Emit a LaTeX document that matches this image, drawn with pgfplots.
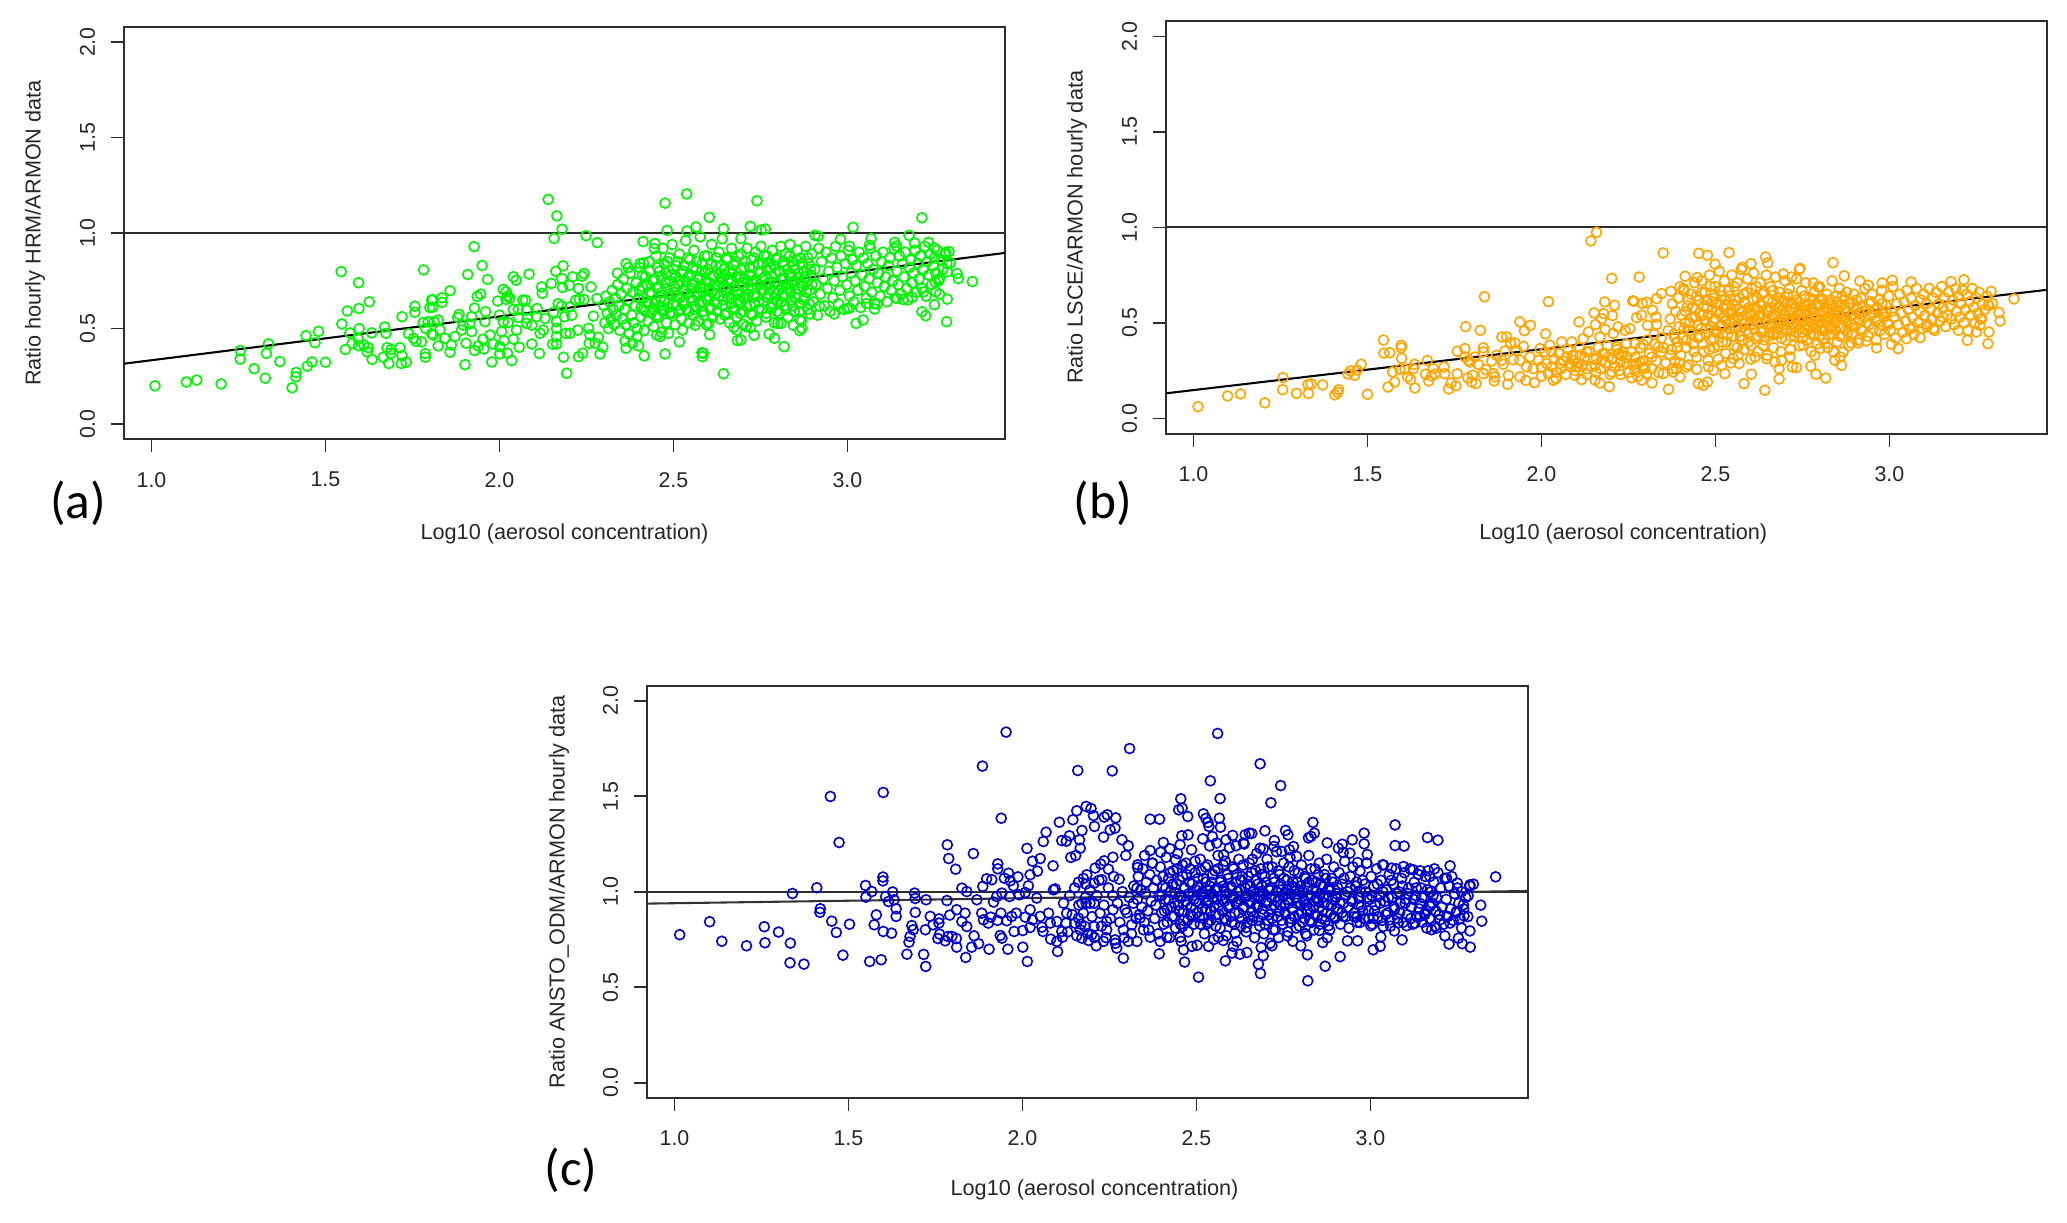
\documentclass[border=0pt]{standalone}
\usepackage{pgfplots}
\usepackage{fontspec}
\setmainfont{Liberation Sans}
\newfontfamily\calib{Carlito}
\pgfplotsset{compat=1.18}
\definecolor{pg}{RGB}{0,245,0}
\definecolor{po}{RGB}{255,165,0}
\definecolor{pb}{RGB}{0,0,205}
\definecolor{edge}{RGB}{45,45,45}
\pgfplotsset{rplot/.style={
  scale only axis, width=317.16pt, height=148.5pt,
  anchor=south west,
  xmin=0.921, xmax=3.453, ymin=-0.08, ymax=2.08,
  xtick={1,1.5,2,2.5,3}, ytick={0,0.5,1,1.5,2},
  xticklabels={1.0,1.5,2.0,2.5,3.0}, yticklabels={0.0,0.5,1.0,1.5,2.0},
  xtick pos=bottom, ytick pos=left, tick align=outside, major tick length=4.7pt,
  axis line style={edge,line width=0.72pt}, tick style={edge,line width=0.6pt},
  /pgf/number format/assume math mode=true,
  tick label style={font=\fontsize{7.7}{9}\selectfont,text=black!85},
  xticklabel style={yshift=-3.6pt},
  yticklabel style={xshift=-5.5pt,rotate=90,anchor=south,inner sep=0pt},
  label style={font=\fontsize{7.8}{9}\selectfont,text=black!85},
  clip=true
}}
\newcommand{\pts}[1]{\addplot[only marks,mark=o,mark size=1.8pt,color=#1,mark options={line width=0.58pt}] coordinates}
\begin{document}
\begin{tikzpicture}
\useasboundingbox (0,0) rectangle (744.12pt,439.92pt);
% ---------------- panel a
\begin{axis}[rplot,at={(44.64pt,281.77pt)},
 xlabel={Log10 (aerosol concentration)},
 xlabel style={at={(axis description cs:0.5,-0.229)},anchor=center},
 ylabel={Ratio hourly HRM/ARMON data},
 ylabel style={at={(axis description cs:-0.101,0.5)},anchor=center}]
\pts{pg}{
(1.01,.20)(1.10,.22)(1.13,.23)(1.20,.21)(1.255,.385)(1.255,.34)(1.295,.29)(1.33,.37)(1.336,.42)(1.327,.24)(1.369,.327)(1.404,.19)(1.415,.247)(1.416,.27)(1.448,.303)(1.461,.325)(1.444,.463)(1.47,.426)(1.48,.485)(1.50,.324)(1.545,.798)(1.547,.524)(1.557,.39)(1.563,.592)(1.596,.605)(1.595,.74)(1.626,.64)(1.57,.477)(1.597,.50)(1.577,.423)(1.594,.445)(1.595,.41)(1.61,.414)(1.623,.40)(1.62,.378)(1.634,.338)(1.633,.477)(1.67,.508)(1.674,.475)(1.677,.40)(1.689,.39)(1.687,.37)(1.666,.35)(1.682,.317)(1.72,.358)(1.714,.40)(1.718,.317)(1.732,.324)(1.72,.562)(1.757,.617)(1.757,.585)(1.739,.473)(1.753,.449)(1.76,.433)(1.776,.43)(1.787,.369)(1.787,.35)(1.782,.807)(1.781,.531)(1.795,.536)(1.788,.50)(1.805,.649)(1.80,.61)(1.805,.472)
(2.14,1.176)(2.165,1.09)(2.18,1.02)(2.157,.972)(2.249,.986)(2.281,.95)(1.927,.929)(1.95,.83)(1.909,.783)(1.966,.757)(1.858,.698)(1.835,.661)(1.808,.652)(1.835,.637)(1.808,.612)(1.936,.668)(1.946,.68)(1.928,.607)(1.884,.574)(1.96,.588)(1.88,.558)(1.92,.562)(2.0,.57)(1.995,.644)(2.011,.705)(2.019,.692)(2.024,.67)(2.019,.652)(2.03,.658)(2.04,.771)(2.048,.753)(2.085,.785)(2.067,.649)(2.075,.649)(2.04,.6)(2.054,.6)(2.078,.597)(2.108,.605)(2.121,.718)(2.123,.684)(2.149,.736)(2.162,.8)(2.183,.828)(2.179,.762)(2.181,.715)(2.201,.727)(2.21,.771)(2.227,.71)(2.237,.774)(2.243,.788)(2.263,.718)(2.23,.654)(2.243,.652)(2.219,.649)(2.169,.631)(2.179,.618)(2.203,.614)(2.155,.585)(2.187,.562)(2.208,.57)(2.131,.553)(2.107,.562)(2.08,.553)(2.054,.558)(2.025,.531)(1.812,.536)(1.824,.545)(1.915,.524)(1.896,.518)(1.958,.536)(2.049,.492)(2.078,.527)(2.093,.518)(2.126,.492)(2.117,.475)(2.164,.536)(2.164,.501)(2.164,.458)(2.191,.475)(2.203,.475)(2.225,.492)(2.256,.501)(2.27,.565)(2.28,.657)(2.26,.466)(2.284,.454)(2.275,.423)(2.297,.402)(2.258,.423)(2.289,.367)(2.239,.371)(2.227,.353)(2.184,.35)(2.193,.266)(2.164,.419)(2.153,.418)(2.115,.369)(2.093,.419)(2.057,.402)(2.035,.332)(2.023,.371)(2.001,.367)(1.978,.325)(1.901,.311)(1.928,.385)(1.939,.409)(1.955,.393)(1.982,.419)(2.001,.405)(2.013,.437)(2.04,.444)(2.006,.484)(1.973,.466)(1.953,.444)(1.904,.423)(1.862,.414)(1.858,.376)(1.824,.409)(1.843,.449)(1.872,.458)(1.891,.492)(1.92,.484)(1.829,.492)(1.81,.466)(2.011,.536)
(2.476,1.157)(2.538,1.205)(2.603,1.082)(2.482,1.014)(2.539,1.011)(2.565,1.032)(2.644,1.023)(2.413,.955)(2.447,.945)(2.445,.918)(2.339,.79)(2.364,.84)(2.37,.819)(2.404,.84)(2.414,.844)(2.582,.374)(2.583,.353)(2.586,.37)(2.476,.367)(2.416,.357)(2.644,.263)(2.604,.468)(2.517,.43)(2.462,.458)(2.452,.466)(2.395,.458)(2.361,.435)(2.364,.397)(2.382,.423)(2.4,.409)(2.486,.475)(2.526,.492)(2.563,.518)(2.601,.527)
(2.74,1.169)(2.721,1.035)(2.752,1.016)(2.764,1.021)(2.694,.971)(2.907,.988)(2.916,.983)(2.98,.967)(3.016,1.03)(3.068,.971)(3.063,.936)(3.006,.931)(3.177,.988)(3.214,1.08)(3.193,.948)(3.233,.951)(3.136,.951)(3.141,.932)(3.25,.922)(3.292,.903)(3.282,.899)(3.296,.844)(3.287,.797)(3.315,.788)(3.319,.762)(3.359,.746)(3.265,.762)(3.252,.745)(3.254,.692)(3.265,.68)(3.287,.654)(3.25,.625)(3.214,.588)(3.225,.567)(3.285,.536)(3.085,.628)(3.078,.602)(3.045,.545)(3.025,.527)(2.999,.605)(3.006,.607)(2.962,.576)(3.054,.631)(2.818,.405)(2.79,.449)(2.775,.471)(2.732,.465)(2.721,.505)(2.701,.522)(2.673,.506)(2.682,.492)(2.684,.437)(2.694,.44)(2.869,.501)(2.863,.489)(2.845,.517)(2.863,.548)(2.809,.527)(2.8,.527)(2.893,.576)(2.92,.618)(3.143,.658)(3.16,.652)(3.186,.663)(3.219,.692)
(2.30,.62)(2.303,.53)(2.306,.67)(2.31,.58)(2.313,.50)(2.316,.64)(2.32,.55)(2.324,.70)(2.327,.60)(2.33,.52)(2.333,.66)(2.336,.57)(2.34,.73)(2.343,.62)(2.346,.49)(2.35,.68)(2.353,.55)(2.356,.76)(2.36,.60)(2.363,.52)(2.366,.71)(2.37,.65)(2.373,.47)(2.376,.79)(2.38,.57)(2.383,.69)(2.386,.53)(2.39,.62)(2.393,.74)(2.396,.50)(2.40,.66)(2.403,.82)(2.406,.56)(2.41,.72)(2.413,.60)(2.416,.49)(2.42,.77)(2.423,.64)(2.426,.54)(2.43,.85)(2.433,.69)(2.436,.58)(2.44,.75)(2.443,.51)(2.446,.63)(2.45,.88)(2.453,.71)(2.456,.56)(2.46,.80)(2.463,.66)(2.466,.48)(2.47,.92)(2.473,.60)(2.476,.74)(2.48,.53)(2.483,.85)(2.486,.68)(2.49,.58)(2.493,.78)(2.496,.94)
(2.499,.63)(2.502,.72)(2.505,.52)(2.508,.83)(2.511,.67)(2.514,.59)(2.517,.89)(2.52,.75)(2.523,.55)(2.526,.64)(2.529,.80)(2.532,.70)(2.535,.96)(2.538,.60)(2.541,.77)(2.544,.53)(2.547,.86)(2.55,.66)(2.553,.73)(2.556,.57)(2.559,.91)(2.562,.62)(2.565,.81)(2.568,.69)(2.571,.54)(2.574,.76)(2.577,.98)(2.58,.64)(2.583,.84)(2.586,.59)(2.589,.71)(2.592,.79)(2.595,.52)(2.598,.88)(2.601,.67)(2.604,.74)(2.607,.61)(2.61,.94)(2.613,.56)(2.616,.78)(2.619,.68)(2.622,.83)(2.625,.63)(2.628,.73)(2.631,.90)(2.634,.55)(2.637,.76)(2.64,.97)(2.643,.65)(2.646,.81)(2.649,.70)(2.652,.58)(2.655,.87)(2.658,.75)(2.661,.53)(2.664,.66)(2.667,.92)(2.67,.79)(2.673,.61)(2.676,.72)(2.679,.85)(2.682,.56)(2.685,.68)(2.688,.77)(2.691,.63)(2.694,.89)(2.697,.74)(2.7,.59)(2.703,.82)(2.706,.66)(2.709,.51)(2.712,.92)(2.715,.71)(2.718,.78)(2.721,.62)(2.724,.86)(2.727,.57)(2.73,.75)(2.733,.68)(2.736,.90)(2.739,.54)(2.742,.80)(2.745,.64)(2.748,.73)(2.751,.93)(2.754,.60)(2.757,.84)(2.76,.70)(2.763,.77)(2.766,.56)(2.769,.88)(2.772,.66)(2.775,.74)(2.778,.82)(2.781,.61)(2.784,.91)(2.787,.69)(2.79,.53)(2.793,.79)(2.796,.86)(2.799,.64)(2.802,.73)(2.805,.58)(2.808,.93)(2.811,.76)(2.814,.67)(2.817,.83)(2.82,.62)(2.823,.89)(2.826,.71)(2.829,.56)(2.832,.78)(2.835,.94)(2.838,.65)(2.841,.85)(2.844,.74)(2.847,.59)(2.85,.81)(2.853,.68)(2.856,.91)(2.859,.77)(2.862,.63)(2.865,.87)(2.868,.54)(2.871,.72)(2.874,.80)(2.877,.66)(2.88,.93)(2.883,.75)(2.886,.60)(2.889,.84)(2.892,.70)(2.895,.78)(2.898,.89)
(2.902,.64)(2.906,.81)(2.91,.73)(2.914,.57)(2.918,.92)(2.922,.68)(2.926,.85)(2.93,.76)(2.934,.62)(2.938,.90)(2.942,.71)(2.946,.80)(2.95,.59)(2.954,.87)(2.958,.66)(2.962,.75)(2.966,.93)(2.97,.82)(2.974,.63)(2.978,.70)(2.982,.88)(2.986,.77)(2.99,.60)(2.994,.84)(2.998,.73)(3.002,.91)(3.006,.67)(3.01,.79)(3.014,.86)(3.018,.64)(3.022,.75)(3.026,.83)(3.03,.70)(3.034,.90)(3.038,.61)(3.042,.78)(3.046,.87)(3.05,.72)(3.054,.66)(3.058,.84)(3.062,.76)(3.066,.92)(3.07,.69)(3.074,.81)(3.078,.63)(3.082,.88)(3.086,.74)(3.09,.79)(3.094,.67)(3.098,.85)(3.102,.90)(3.106,.72)(3.11,.77)(3.114,.64)(3.118,.83)(3.122,.87)(3.126,.70)(3.13,.75)(3.134,.92)(3.138,.66)(3.142,.80)(3.146,.73)(3.15,.88)(3.154,.68)(3.158,.84)(3.162,.77)(3.166,.90)(3.17,.71)(3.174,.65)(3.178,.82)(3.182,.86)(3.186,.74)(3.19,.79)(3.194,.91)(3.198,.69)(3.202,.84)(3.206,.76)(3.21,.88)(3.214,.71)(3.218,.81)(3.222,.93)(3.226,.67)(3.23,.85)(3.234,.78)(3.238,.89)(3.242,.73)(3.246,.83)(3.25,.87)(3.254,.79)(3.258,.91)(3.262,.75)(3.268,.86)(3.274,.81)(3.28,.89)(3.286,.84)
(2.402,.70)(2.407,.61)(2.411,.78)(2.415,.66)(2.419,.59)(2.424,.73)(2.428,.63)(2.432,.80)(2.437,.68)(2.441,.60)(2.445,.76)(2.449,.65)(2.452,.57)(2.455,.82)(2.458,.72)(2.461,.62)(2.464,.77)(2.467,.69)(2.47,.59)(2.473,.84)(2.476,.65)(2.479,.79)(2.482,.71)(2.485,.61)(2.488,.87)(2.491,.75)(2.494,.67)(2.497,.58)(2.5,.81)(2.503,.69)(2.506,.77)(2.509,.62)(2.512,.85)(2.515,.73)(2.518,.66)(2.521,.60)(2.524,.79)(2.527,.70)(2.53,.83)(2.533,.63)(2.536,.75)(2.539,.68)(2.542,.87)(2.545,.59)(2.548,.78)(2.551,.71)(2.554,.65)(2.557,.82)(2.56,.74)(2.563,.60)(2.566,.85)(2.569,.67)(2.572,.77)(2.575,.63)(2.578,.72)(2.581,.80)(2.584,.69)(2.587,.57)(2.59,.88)(2.593,.75)(2.596,.65)(2.599,.81)(2.602,.71)(2.605,.60)(2.608,.84)(2.611,.69)(2.614,.77)(2.617,.64)(2.62,.73)(2.623,.87)(2.626,.59)(2.629,.79)(2.632,.67)(2.635,.74)(2.638,.83)(2.641,.62)(2.644,.72)(2.647,.57)(2.65,.78)(2.653,.86)(2.656,.66)(2.659,.71)(2.662,.80)(2.665,.63)(2.668,.75)(2.671,.68)(2.674,.83)(2.677,.60)(2.68,.77)(2.683,.70)(2.686,.88)(2.689,.65)(2.692,.58)(2.695,.81)(2.698,.72)(2.701,.66)(2.704,.76)(2.707,.85)(2.71,.62)(2.713,.74)(2.716,.68)(2.719,.82)(2.722,.58)(2.725,.78)(2.728,.71)(2.731,.87)(2.734,.63)(2.737,.75)(2.74,.67)(2.743,.84)(2.746,.60)(2.749,.79)(2.752,.70)(2.755,.76)(2.758,.64)(2.761,.88)(2.764,.73)(2.767,.58)(2.77,.81)(2.773,.68)(2.776,.85)(2.779,.71)(2.782,.77)(2.785,.63)(2.788,.83)(2.791,.66)(2.794,.74)(2.797,.59)(2.8,.87)(2.803,.70)(2.806,.80)(2.809,.64)(2.812,.72)(2.815,.85)(2.818,.76)(2.821,.67)(2.824,.60)(2.827,.81)(2.83,.73)(2.833,.88)(2.836,.69)(2.839,.78)(2.842,.62)(2.845,.83)(2.848,.75)(2.851,.66)(2.854,.86)(2.857,.71)(2.86,.79)(2.863,.59)(2.866,.74)(2.87,.84)(2.874,.65)(2.878,.77)(2.882,.69)(2.886,.87)(2.89,.63)(2.894,.81)(2.898,.73)
};
\addplot[edge,line width=0.72pt] coordinates {(0.921,1)(3.453,1)};
\addplot[black,line width=0.75pt] coordinates {(0.921,.316)(3.453,.896)};
\end{axis}
% ---------------- panel b
\begin{axis}[rplot,at={(419.76pt,283.82pt)},
 xlabel={Log10 (aerosol concentration)},
 xlabel style={at={(axis description cs:0.519,-0.242)},anchor=center},
 ylabel={Ratio LSCE/ARMON hourly data},
 ylabel style={at={(axis description cs:-0.101,0.5)},anchor=center}]
\pts{po}{
(1.013,.061)(1.098,.117)(1.135,.128)(1.205,.081)(1.257,.213)(1.256,.15)(1.296,.131)(1.33,.13)(1.329,.177)(1.338,.18)(1.371,.175)(1.406,.123)(1.414,.136)(1.417,.15)(1.444,.232)(1.451,.248)(1.463,.225)(1.47,.253)(1.482,.283)(1.5,.126)(1.546,.41)(1.547,.341)(1.564,.344)(1.559,.164)(1.578,.19)(1.572,.243)(1.597,.383)(1.597,.369)(1.598,.314)(1.593,.257)(1.608,.257)(1.635,.283)(1.632,.26)(1.615,.217)(1.624,.203)(1.636,.159)(1.672,.302)(1.667,.231)(1.676,.196)(1.684,.222)(1.694,.232)(1.689,.26)(1.72,.269)(1.722,.234)(1.733,.154)(1.74,.185)(1.754,.17)(1.758,.234)(1.758,.351)(1.78,.365)(1.782,.48)(1.78,.321)(1.788,.212)(1.79,.304)
(1.836,.637)(2.02,.611)(1.824,.461)(1.938,.505)(1.968,.487)(1.951,.459)(2.012,.442)(2.108,.505)(2.151,.552)(2.179,.548)(2.173,.522)(2.155,.491)(2.182,.61)(2.21,.592)(2.204,.538)(2.202,.733)(2.281,.74)(2.142,.929)(2.158,.974)(2.35,.866)(2.452,.864)(2.477,.854)(2.539,.868)(2.499,.807)(2.602,.81)(2.578,.791)(2.644,.845)(2.65,.814)(2.413,.744)(2.447,.737)(2.262,.615)(2.266,.613)(2.29,.601)(2.302,.608)(2.319,.566)(2.273,.527)(2.288,.54)(2.329,.531)(2.305,.487)(2.331,.492)(2.372,.665)(2.345,.653)(2.331,.627)(2.398,.688)(2.408,.679)(1.886,.426)(1.9,.426)(1.924,.395)(1.911,.395)(1.948,.377)(1.833,.369)(1.833,.348)(1.895,.353)(1.928,.356)(1.857,.3)(1.871,.33)(1.886,.304)(1.89,.283)(1.809,.321)(1.818,.283)(1.795,.295)(1.84,.255)(1.862,.234)(1.833,.234)(1.866,.217)(1.864,.196)(1.802,.226)(1.799,.19)(1.812,.182)(1.905,.225)(1.903,.178)(1.938,.217)(1.955,.199)(1.98,.187)(1.919,.307)(1.938,.304)(1.967,.321)(1.957,.269)(1.976,.26)(1.991,.304)(1.996,.365)(2.01,.348)(2.024,.383)(2.029,.348)(2.0,.269)(2.015,.287)(2.02,.234)(2.0,.22)(2.034,.2)(2.042,.208)(2.053,.287)(2.058,.4)(2.087,.4)(2.072,.321)(2.091,.304)(2.111,.33)(2.13,.348)(2.12,.417)(2.135,.452)(2.168,.426)(2.183,.465)(2.206,.444)(2.22,.479)(2.24,.461)(2.254,.47)(2.082,.287)(2.101,.269)(2.13,.26)(2.115,.203)(2.096,.225)(2.154,.2)(2.168,.185)(2.195,.166)(2.158,.313)(2.154,.278)(2.173,.304)(2.183,.339)(2.192,.321)(2.202,.243)(2.227,.229)(2.259,.212)(2.288,.2)(2.318,.185)(2.365,.152)(2.216,.374)(2.235,.348)(2.245,.321)(2.221,.339)(2.226,.295)(2.245,.287)(2.269,.391)(2.293,.386)(2.326,.391)(2.273,.287)(2.283,.295)(2.269,.252)(2.293,.26)(2.302,.234)(2.317,.321)(2.336,.374)(2.345,.348)(2.35,.234)(2.379,.243)(2.398,.217)(2.388,.26)(2.417,.269)(2.446,.257)(2.451,.182)(2.465,.173)(2.477,.19)(2.582,.182)(2.603,.231)(2.642,.147)(2.527,.234)(2.518,.278)(2.479,.304)(2.494,.252)(2.551,.313)(2.568,.287)(2.614,.321)(2.647,.313)
(2.838,.815)(2.741,.78)(2.743,.785)(2.695,.756)(2.719,.74)(2.87,.746)(2.781,.709)(2.795,.688)(2.915,.719)(2.939,.697)(2.979,.709)(3.008,.723)(3.062,.714)(3.177,.716)(3.214,.726)(3.292,.665)(3.358,.625)(3.296,.601)(3.284,.592)(3.315,.554)(3.318,.51)(3.265,.522)(3.26,.487)(3.286,.452)(3.283,.391)(3.224,.409)(3.25,.452)(3.198,.461)(3.153,.531)(3.126,.47)(3.107,.479)(3.088,.423)(3.049,.417)(3.025,.365)(3.006,.388)(2.963,.369)(3.068,.475)(2.934,.405)(2.91,.395)(2.891,.395)(2.867,.348)(2.839,.348)(2.843,.304)(2.858,.321)(2.862,.278)(2.817,.211)(2.789,.231)(2.774,.273)(2.785,.33)(2.733,.266)(2.721,.269)(2.714,.321)(2.683,.26)(2.683,.206)(2.69,.304)(2.671,.295)(2.815,.391)(2.752,.383)(2.8,.365)
(2.37,.52)(2.373,.36)(2.376,.60)(2.38,.44)(2.383,.30)(2.386,.56)(2.39,.40)(2.393,.63)(2.396,.48)(2.40,.33)(2.403,.54)(2.406,.42)(2.41,.67)(2.413,.50)(2.416,.37)(2.42,.59)(2.423,.28)(2.426,.46)(2.43,.65)(2.433,.53)(2.436,.39)(2.44,.71)(2.443,.57)(2.446,.32)(2.45,.49)(2.453,.62)(2.456,.43)(2.46,.72)(2.463,.54)(2.466,.35)(2.47,.66)(2.473,.47)(2.476,.58)(2.48,.27)(2.483,.75)(2.486,.41)(2.49,.61)(2.493,.51)(2.496,.37)(2.499,.69)(2.502,.45)(2.505,.56)(2.508,.31)(2.511,.77)(2.514,.48)(2.517,.64)(2.52,.40)(2.523,.53)(2.526,.72)(2.529,.34)(2.532,.59)(2.535,.44)(2.538,.67)(2.541,.50)(2.544,.29)(2.547,.75)(2.55,.55)(2.553,.38)(2.556,.62)(2.559,.47)(2.562,.71)(2.565,.33)(2.568,.57)(2.571,.43)(2.574,.78)(2.577,.52)(2.58,.65)(2.583,.36)(2.586,.60)(2.589,.46)(2.592,.73)(2.595,.40)(2.598,.55)(2.601,.31)(2.604,.68)(2.607,.49)(2.61,.76)(2.613,.58)(2.616,.42)(2.619,.63)(2.622,.35)(2.625,.53)(2.628,.71)(2.631,.45)(2.634,.59)(2.637,.38)(2.64,.66)(2.643,.51)(2.646,.75)(2.649,.33)(2.652,.56)(2.655,.43)(2.658,.69)(2.661,.48)(2.664,.61)(2.667,.37)(2.67,.54)(2.673,.74)(2.676,.44)(2.679,.58)(2.682,.50)(2.685,.66)(2.688,.35)(2.691,.62)(2.694,.47)(2.697,.55)(2.7,.72)(2.703,.41)(2.706,.60)(2.709,.52)(2.712,.68)(2.715,.36)(2.718,.46)(2.721,.57)(2.724,.64)(2.727,.43)(2.73,.53)(2.733,.73)(2.736,.49)(2.739,.61)(2.742,.38)(2.745,.56)(2.748,.67)(2.751,.45)(2.754,.51)(2.757,.59)(2.76,.71)(2.763,.41)(2.766,.54)(2.769,.48)(2.772,.63)(2.775,.35)(2.778,.57)(2.781,.44)(2.784,.66)(2.787,.52)(2.79,.60)(2.793,.39)(2.796,.49)(2.799,.69)(2.802,.55)(2.805,.46)(2.808,.62)(2.811,.42)(2.814,.58)(2.817,.51)(2.82,.65)(2.823,.37)(2.826,.53)(2.829,.47)(2.832,.60)(2.835,.72)(2.838,.44)(2.841,.56)(2.844,.50)(2.847,.64)(2.85,.40)(2.853,.54)(2.856,.68)(2.859,.48)(2.862,.59)(2.865,.43)(2.868,.52)(2.871,.62)(2.874,.46)(2.877,.66)(2.88,.56)(2.883,.38)(2.886,.50)(2.889,.60)(2.892,.44)(2.895,.54)(2.898,.65)
(2.902,.48)(2.906,.58)(2.91,.41)(2.914,.52)(2.918,.63)(2.922,.46)(2.926,.56)(2.93,.68)(2.934,.50)(2.938,.43)(2.942,.60)(2.946,.54)(2.95,.65)(2.954,.47)(2.958,.57)(2.962,.41)(2.966,.52)(2.97,.62)(2.974,.49)(2.978,.67)(2.982,.55)(2.986,.44)(2.99,.59)(2.994,.50)(2.998,.64)(3.002,.46)(3.006,.56)(3.01,.69)(3.014,.53)(3.018,.42)(3.022,.60)(3.026,.49)(3.03,.65)(3.034,.55)(3.038,.45)(3.042,.61)(3.046,.51)(3.05,.67)(3.054,.57)(3.058,.47)(3.062,.63)(3.066,.53)(3.07,.44)(3.074,.59)(3.078,.68)(3.082,.50)(3.086,.56)(3.09,.62)(3.094,.47)(3.098,.65)(3.102,.54)(3.106,.60)(3.11,.49)(3.114,.68)(3.118,.57)(3.122,.52)(3.126,.63)(3.13,.46)(3.134,.66)(3.138,.55)(3.142,.60)(3.146,.51)(3.15,.69)(3.154,.58)(3.158,.63)(3.162,.48)(3.166,.54)(3.17,.66)(3.174,.59)(3.178,.52)(3.182,.62)(3.186,.49)(3.19,.68)(3.194,.56)(3.198,.64)(3.202,.53)(3.206,.60)(3.21,.67)(3.214,.50)(3.218,.57)(3.222,.65)(3.226,.46)(3.23,.61)(3.234,.54)(3.238,.68)(3.242,.58)(3.246,.50)(3.25,.63)(3.254,.55)(3.258,.66)(3.262,.52)(3.268,.60)(3.274,.57)(3.28,.64)(3.286,.59)
(2.41,.47)(2.414,.56)(2.418,.41)(2.422,.62)(2.426,.50)(2.43,.44)(2.434,.58)(2.438,.35)(2.442,.53)(2.446,.64)(2.45,.42)(2.454,.55)(2.458,.47)(2.461,.66)(2.464,.39)(2.467,.59)(2.47,.51)(2.473,.44)(2.476,.62)(2.479,.54)(2.482,.36)(2.485,.69)(2.488,.48)(2.491,.57)(2.494,.42)(2.497,.63)(2.5,.52)(2.503,.46)(2.506,.60)(2.509,.38)(2.512,.55)(2.515,.67)(2.518,.49)(2.521,.44)(2.524,.58)(2.527,.62)(2.53,.51)(2.533,.40)(2.536,.55)(2.539,.47)(2.542,.64)(2.545,.57)(2.548,.43)(2.551,.52)(2.554,.69)(2.557,.48)(2.56,.59)(2.563,.37)(2.566,.53)(2.569,.63)(2.572,.46)(2.575,.56)(2.578,.41)(2.581,.50)(2.584,.61)(2.587,.54)(2.59,.66)(2.593,.44)(2.596,.58)(2.599,.49)(2.602,.38)(2.605,.55)(2.608,.62)(2.611,.47)(2.614,.52)(2.617,.69)(2.62,.57)(2.623,.43)(2.626,.50)(2.629,.60)(2.632,.54)(2.635,.65)(2.638,.46)(2.641,.41)(2.644,.57)(2.647,.52)(2.65,.62)(2.653,.49)(2.656,.45)(2.659,.58)(2.662,.53)(2.665,.67)(2.668,.44)(2.671,.50)(2.674,.60)(2.677,.55)(2.68,.47)(2.683,.63)(2.686,.52)(2.689,.42)(2.692,.57)(2.695,.49)(2.698,.61)(2.701,.54)(2.704,.46)(2.707,.65)(2.71,.50)(2.713,.56)(2.716,.43)(2.719,.60)(2.722,.52)(2.725,.48)(2.728,.58)(2.731,.45)(2.734,.62)(2.737,.55)(2.74,.51)(2.743,.47)(2.746,.59)(2.749,.42)(2.752,.53)(2.755,.64)(2.758,.49)(2.761,.56)(2.764,.46)(2.767,.60)(2.77,.52)(2.773,.44)(2.776,.58)(2.779,.50)(2.782,.62)(2.785,.55)(2.788,.47)(2.791,.53)(2.794,.59)(2.797,.43)(2.8,.51)(2.803,.63)(2.806,.48)(2.809,.56)(2.812,.46)(2.815,.60)(2.818,.53)(2.821,.50)(2.824,.57)(2.827,.44)(2.83,.62)(2.833,.52)(2.836,.48)(2.839,.59)(2.842,.54)(2.845,.46)(2.848,.51)(2.851,.61)(2.854,.56)(2.857,.43)(2.86,.53)(2.864,.64)(2.868,.48)(2.872,.57)(2.876,.51)(2.88,.45)(2.884,.60)(2.888,.54)(2.892,.49)(2.896,.58)(2.9,.52)(2.906,.62)(2.912,.55)(2.918,.47)(2.924,.59)(2.93,.53)(2.936,.57)(2.942,.49)(2.948,.61)(2.954,.55)(2.96,.51)(2.966,.58)(2.972,.46)(2.978,.60)(2.984,.53)(2.99,.56)(2.996,.49)
(2.03,.27)(2.036,.31)(2.043,.24)(2.05,.34)(2.056,.26)(2.063,.30)(2.07,.23)(2.077,.36)(2.084,.27)(2.09,.33)(2.097,.25)(2.104,.29)(2.11,.37)(2.117,.28)(2.124,.32)(2.13,.23)(2.137,.35)(2.144,.27)(2.15,.31)(2.157,.24)(2.163,.37)(2.17,.26)(2.177,.34)(2.184,.29)(2.19,.38)(2.197,.23)(2.204,.31)(2.21,.27)(2.217,.36)(2.224,.25)(2.23,.33)(2.237,.29)(2.244,.39)(2.25,.24)(2.257,.35)(2.264,.28)(2.27,.32)(2.277,.22)(2.284,.37)(2.29,.30)(2.297,.27)(2.304,.41)(2.31,.34)(2.317,.26)(2.324,.44)(2.33,.30)(2.337,.24)(2.344,.42)(2.35,.37)(2.357,.29)(2.364,.46)(2.37,.33)(2.377,.26)(2.384,.42)(2.39,.37)(2.397,.29)
};
\addplot[edge,line width=0.72pt] coordinates {(0.921,1)(3.453,1)};
\addplot[black,line width=0.75pt] coordinates {(0.921,.131)(3.453,.673)};
\end{axis}
% ---------------- panel c
\begin{axis}[rplot,at={(232.92pt,44.64pt)},
 xlabel={Log10 (aerosol concentration)},
 xlabel style={at={(axis description cs:0.508,-0.223)},anchor=center},
 ylabel={Ratio ANSTO\_ODM/ARMON hourly data},
 ylabel style={at={(axis description cs:-0.1,0.5)},anchor=center}]
\pts{pb}{
(1.015,.775)(1.101,.843)(1.136,.741)(1.207,.717)(1.258,.817)(1.26,.733)(1.299,.789)(1.333,.731)(1.332,.628)(1.339,.991)(1.372,.621)(1.409,1.021)(1.419,.911)(1.418,.892)(1.448,1.499)(1.452,.846)(1.465,.787)(1.473,1.258)(1.484,.668)(1.503,.83)(1.549,1.033)(1.55,.972)(1.567,1.001)(1.561,.635)(1.574,.827)(1.58,.879)(1.594,.644)(1.6,1.52)(1.599,1.077)(1.599,1.057)(1.6,.792)(1.607,.975)(1.615,.949)(1.624,.783)(1.627,.999)(1.631,.958)(1.637,.911)(1.637,.871)(1.668,.673)(1.677,.766)(1.674,.736)(1.682,.823)(1.686,.801)(1.69,.993)(1.692,.965)(1.692,.892)(1.716,.672)(1.722,.609)(1.721,.801)(1.723,.958)(1.735,.871)(1.743,.827)(1.76,.858)(1.76,.836)(1.762,.778)(1.757,.755)(1.778,.743)(1.786,.766)(1.783,.954)(1.784,1.246)(1.788,1.174)(1.791,.878)
(1.953,1.836)(1.885,1.658)(2.159,1.635)(2.258,1.633)(2.308,1.75)(1.939,1.385)(1.808,1.118)(1.859,1.2)(1.897,1.068)(1.912,1.063)(1.929,1.146)(1.929,1.12)(1.96,1.097)(1.948,1.071)(1.987,1.078)(1.965,1.057)(1.974,1.031)(1.826,1.019)(1.84,1.001)(1.886,1.028)(1.869,.958)(1.917,.946)(1.926,.975)(1.941,.993)(1.963,.975)(1.991,.984)(2.008,.996)(2.017,1.031)(2.022,1.089)(2.043,1.108)(2.029,1.16)(2.051,1.174)(2.013,1.227)(2.06,1.263)(2.068,1.312)(2.106,1.364)(2.088,1.136)(2.113,1.268)(2.126,1.265)(2.135,1.293)(2.145,1.377)(2.156,1.424)(2.183,1.447)(2.197,1.436)(2.204,1.399)(2.207,1.342)(2.171,1.321)(2.164,1.272)(2.166,1.228)(2.153,1.19)(2.139,1.18)(2.233,1.286)(2.235,1.391)(2.244,1.403)(2.268,1.387)(2.252,1.324)(2.266,1.333)(2.286,1.272)(2.304,1.241)(2.297,1.19)(2.26,1.181)(2.235,1.162)(2.225,1.145)(2.209,1.124)(2.185,1.089)(2.161,1.05)(2.182,1.04)(2.206,1.045)(2.228,1.063)(2.247,1.118)(2.262,1.08)(2.278,1.066)(2.331,1.141)(2.331,1.127)(2.329,1.019)(2.367,1.38)(2.394,1.38)(2.405,1.258)(2.367,1.216)(2.351,1.19)(2.374,1.15)(2.397,1.207)(2.424,1.225)(2.44,1.167)(2.455,1.487)(2.449,1.429)(2.459,1.438)(2.475,1.394)(2.453,1.246)(2.458,1.293)(2.476,1.298)(2.52,1.408)(2.527,1.384)(2.533,1.363)(2.536,1.342)(2.566,1.385)(2.569,1.338)(2.561,1.829)(2.54,1.581)(2.568,1.488)(2.518,1.277)(2.546,1.289)(2.558,1.255)(2.578,1.193)(2.604,1.295)(2.585,1.272)(2.614,1.241)(2.64,1.298)(2.652,1.307)(2.635,1.255)
(1.811,.906)(1.835,.888)(1.826,.844)(1.84,.818)(1.797,.766)(1.81,.755)(1.811,.71)(1.854,.71)(1.874,.728)(1.861,.769)(1.837,.656)(1.904,.699)(1.936,.771)(1.941,.757)(1.958,.699)(2.001,.71)(2.014,.635)(1.976,.792)(2.001,.797)(2.022,.813)(2.056,.815)(2.059,.792)(2.081,.752)(2.113,.792)(2.115,.762)(2.099,.74)(2.101,.687)(1.883,.888)(1.888,.853)(1.902,.836)(1.909,.867)(1.928,.85)(1.938,.888)(1.955,.848)(1.969,.871)(1.982,.888)(2.008,.867)(2.022,.906)(2.029,.853)(2.041,.967)(2.051,.871)(2.075,.888)(2.08,.836)(2.099,.844)(2.118,.94)(2.125,.836)(2.127,.888)(2.089,1.01)(2.094,1.015)(2.171,.94)(2.183,.94)(2.194,.94)(2.206,.94)(2.175,.888)(2.161,.862)(2.151,.836)(2.166,.801)(2.171,.757)(2.18,.818)(2.206,.818)(2.199,.775)(2.19,.745)(2.212,.717)(2.233,.74)(2.223,.888)(2.242,.844)(2.242,.801)(2.26,.906)(2.271,.705)(2.29,.652)(2.266,.748)(2.29,.801)(2.314,.827)(2.304,.74)(2.329,.74)(2.295,.906)(2.319,.94)(2.338,.862)(2.348,.801)(2.367,.762)(2.396,.74)(2.393,.675)(2.415,.762)(2.453,.762)(2.46,.818)(2.463,.696)(2.466,.632)(2.487,.714)(2.506,.553)(2.535,.714)(2.532,.832)(2.563,.762)(2.577,.745)(2.611,.783)(2.606,.714)(2.602,.679)(2.583,.638)(2.625,.673)(2.645,.682)(2.643,.813)
(2.683,1.67)(2.742,1.556)(2.714,1.466)(2.835,1.363)(2.839,1.307)(2.822,1.282)(2.829,1.29)(2.697,1.319)(2.659,1.305)(2.756,1.321)(2.763,1.298)(2.724,1.268)(2.723,1.237)(2.683,1.228)(2.692,1.225)(2.767,1.22)(2.779,1.237)(2.745,1.211)(2.788,1.185)(2.876,1.256)(2.908,1.228)(2.919,1.249)(2.948,1.272)(2.982,1.307)(2.982,1.251)(2.991,1.195)(2.941,1.202)(2.922,1.206)(2.989,1.15)(2.963,1.153)(3.071,1.35)(3.071,1.242)(3.097,1.239)(3.164,1.284)(3.194,1.27)(3.229,1.136)(3.035,1.141)(3.061,1.124)(3.095,1.132)(3.123,1.115)(3.143,1.11)(3.184,1.12)(3.171,1.08)(3.219,1.071)(3.25,1.045)(3.286,1.036)(3.296,1.04)(3.36,1.078)(3.281,.979)(3.317,.93)(3.32,.846)(3.267,.932)(3.248,.897)(3.269,.874)(3.286,.795)(3.262,.81)(3.253,.757)(3.264,.728)(3.287,.71)(3.226,.726)(3.214,.769)(3.229,.836)(3.176,.801)(3.162,.81)(3.19,.81)(3.171,.923)(3.128,.836)(3.104,.822)(3.091,.748)(3.069,.795)(3.03,.764)(3.028,.714)(3.008,.696)(2.963,.743)(2.934,.743)(2.913,.66)(2.87,.61)(2.82,.534)(2.876,.759)(2.863,.734)(2.853,.797)(2.817,.769)(2.819,.67)(2.8,.717)(2.777,.741)(2.761,.769)(2.717,.717)(2.692,.665)(2.686,.708)(2.678,.621)(2.684,.572)(3.001,.822)(3.037,.818)(2.97,.839)(2.961,.867)(2.922,.871)(2.893,.862)(2.879,.822)(3.008,.862)(3.056,.853)(3.08,.836)(3.143,.871)(3.157,.888)(3.2,.853)(3.219,.871)
(2.33,.96)(2.333,1.08)(2.336,.88)(2.34,1.01)(2.343,.92)(2.346,1.12)(2.35,.84)(2.353,.99)(2.356,1.05)(2.36,.90)(2.363,.80)(2.366,1.09)(2.37,.95)(2.373,1.15)(2.376,1.02)(2.38,.86)(2.383,.93)(2.386,1.06)(2.39,.78)(2.393,.98)(2.396,1.13)(2.40,.89)(2.403,1.03)(2.406,.83)(2.41,.96)(2.413,1.18)(2.416,.91)(2.42,1.07)(2.423,.76)(2.426,1.00)(2.43,.87)(2.433,1.11)(2.436,.94)(2.44,.81)(2.443,1.04)(2.446,1.20)(2.45,.90)(2.453,.97)(2.456,.74)(2.46,1.08)(2.463,.85)(2.466,1.02)(2.47,1.15)(2.473,.93)(2.476,.79)(2.48,1.05)(2.483,.88)(2.486,1.22)(2.49,.98)(2.493,.83)(2.496,1.10)(2.499,.95)(2.502,.72)(2.505,1.03)(2.508,.87)(2.511,1.17)(2.514,.99)(2.517,.91)(2.52,1.07)(2.523,.78)(2.526,1.13)(2.529,.94)(2.532,1.01)(2.535,.84)(2.538,1.24)(2.541,.90)(2.544,1.05)(2.547,.97)(2.55,.75)(2.553,1.11)(2.556,.88)(2.559,1.02)(2.562,1.19)(2.565,.93)(2.568,.81)(2.571,1.06)(2.574,.96)(2.577,1.14)(2.58,.86)(2.583,1.00)(2.586,.77)(2.589,1.09)(2.592,.92)(2.595,1.23)(2.598,1.03)(2.601,.84)(2.604,.98)(2.607,1.12)(2.61,.89)(2.613,1.05)(2.616,.74)(2.619,.95)(2.622,1.17)(2.625,1.01)(2.628,.82)(2.631,1.08)(2.634,.91)(2.637,1.25)(2.64,.97)(2.643,.79)(2.646,1.04)(2.649,.87)(2.652,1.15)(2.655,.94)(2.658,1.10)(2.661,.85)(2.664,1.00)(2.667,.76)(2.67,1.06)(2.673,1.20)(2.676,.92)(2.679,.98)(2.682,.82)(2.685,1.12)(2.688,1.03)(2.691,.88)(2.694,.78)(2.697,1.08)(2.7,.95)(2.703,1.17)(2.706,.85)(2.709,1.01)(2.712,.73)(2.715,.91)(2.718,1.13)(2.721,.80)(2.724,1.05)(2.727,.97)(2.73,1.21)(2.733,.87)(2.736,.76)(2.739,1.09)(2.742,.93)(2.745,1.01)(2.748,.83)(2.751,1.15)(2.754,.89)(2.757,.99)(2.76,1.06)(2.763,.79)(2.766,.94)(2.769,1.18)(2.772,.86)(2.775,1.03)(2.778,.91)(2.781,1.11)(2.784,.97)(2.787,.81)(2.79,1.05)(2.793,.88)(2.796,1.00)(2.799,.93)(2.802,1.14)(2.805,.84)(2.808,.96)(2.811,1.08)(2.814,.78)(2.817,1.02)(2.82,.90)(2.823,1.19)(2.826,.85)(2.829,.98)(2.832,1.06)(2.835,.92)(2.838,.80)(2.841,1.12)(2.844,1.00)(2.847,.87)(2.85,.95)(2.853,1.15)(2.856,.83)(2.859,1.04)(2.862,.90)(2.865,.97)(2.868,1.09)(2.871,.85)(2.874,1.17)(2.877,.93)(2.88,1.02)(2.883,.80)(2.886,.88)(2.889,1.07)(2.892,.96)(2.895,1.13)(2.898,.86)
(2.902,.99)(2.906,.91)(2.91,1.10)(2.914,.83)(2.918,1.04)(2.922,.94)(2.926,1.16)(2.93,.87)(2.934,1.00)(2.938,.81)(2.942,1.08)(2.946,.95)(2.95,1.13)(2.954,.89)(2.958,1.03)(2.962,.84)(2.966,.97)(2.97,1.11)(2.974,.92)(2.978,1.06)(2.982,.86)(2.986,1.00)(2.99,1.15)(2.994,.90)(2.998,.96)(3.002,1.08)(3.006,.83)(3.01,1.03)(3.014,.93)(3.018,1.12)(3.022,.87)(3.026,.98)(3.03,1.06)(3.034,.85)(3.038,1.14)(3.042,.95)(3.046,1.01)(3.05,.89)(3.054,1.09)(3.058,.82)(3.062,.97)(3.066,1.04)(3.07,.91)(3.074,1.12)(3.078,.86)(3.082,1.00)(3.086,.94)(3.09,1.07)(3.094,.84)(3.098,1.10)(3.102,.96)(3.106,.88)(3.11,1.02)(3.114,1.12)(3.118,.92)(3.122,.83)(3.126,1.05)(3.13,.98)(3.134,.87)(3.138,1.09)(3.142,.94)(3.146,1.02)(3.15,.84)(3.154,.97)(3.158,1.08)(3.162,.90)(3.166,1.11)(3.17,.86)(3.174,1.00)(3.178,.94)(3.182,1.05)(3.186,.82)(3.19,.97)(3.194,1.10)(3.198,.88)(3.202,1.02)(3.206,.92)(3.21,.83)(3.214,1.07)(3.218,.96)(3.222,.87)(3.226,1.03)(3.23,.91)(3.234,1.08)(3.238,.85)(3.242,.99)(3.246,.89)(3.25,1.02)(3.254,.94)(3.258,.86)(3.262,1.00)(3.268,.91)(3.274,.97)(3.28,.87)(3.286,1.03)
(2.40,.98)(2.404,1.08)(2.408,.90)(2.412,1.02)(2.416,.84)(2.42,.96)(2.424,1.10)(2.428,.92)(2.432,1.04)(2.436,.87)(2.44,.99)(2.444,1.12)(2.448,.93)(2.451,1.06)(2.454,.83)(2.457,.98)(2.46,1.14)(2.463,.90)(2.466,1.02)(2.469,.95)(2.472,1.09)(2.475,.85)(2.478,.99)(2.481,1.12)(2.484,.92)(2.487,1.04)(2.49,.87)(2.493,.96)(2.496,1.16)(2.499,1.01)(2.502,.89)(2.505,1.07)(2.508,.94)(2.511,.83)(2.514,1.11)(2.517,1.00)(2.52,.86)(2.523,.97)(2.526,1.05)(2.529,.91)(2.532,1.14)(2.535,.95)(2.538,1.03)(2.541,.85)(2.544,.99)(2.547,1.09)(2.55,.92)(2.553,1.01)(2.556,.82)(2.559,.96)(2.562,1.12)(2.565,.88)(2.568,1.05)(2.571,.98)(2.574,.90)(2.577,1.03)(2.58,.95)(2.583,1.16)(2.586,.85)(2.589,.99)(2.592,1.07)(2.595,.93)(2.598,.87)(2.601,1.02)(2.604,1.13)(2.607,.97)(2.61,.83)(2.613,.94)(2.616,1.09)(2.619,1.00)(2.622,.89)(2.625,.96)(2.628,1.06)(2.631,.86)(2.634,1.14)(2.637,.92)(2.64,1.02)(2.643,.98)(2.646,.84)(2.649,1.08)(2.652,.95)(2.655,1.03)(2.658,.90)(2.661,1.17)(2.664,.87)(2.667,.97)(2.67,1.11)(2.673,.93)(2.676,1.04)(2.679,.85)(2.682,1.00)(2.685,.96)(2.688,1.09)(2.691,.91)(2.694,.99)(2.697,.83)(2.7,1.05)(2.703,.94)(2.706,1.13)(2.709,.88)(2.712,1.02)(2.715,.97)(2.718,.86)(2.721,1.07)(2.724,.93)(2.727,.80)(2.73,1.00)(2.733,.95)(2.736,1.11)(2.739,.90)(2.742,1.04)(2.745,.85)(2.748,.98)(2.751,1.07)(2.754,.93)(2.757,.88)(2.76,1.01)(2.763,.96)(2.766,1.13)(2.769,.84)(2.772,.99)(2.775,.91)(2.778,1.05)(2.781,.87)(2.784,1.02)(2.787,.94)(2.79,.97)(2.793,1.10)(2.796,.82)(2.799,1.03)(2.802,.89)(2.805,1.00)(2.808,.95)(2.811,.86)(2.814,1.07)(2.817,.93)(2.82,.98)(2.823,1.05)(2.826,.91)(2.829,1.12)(2.832,.84)(2.835,1.01)(2.838,.95)(2.841,.88)(2.844,1.05)(2.847,.97)(2.85,1.09)(2.853,.92)(2.856,.99)(2.86,.86)(2.864,1.03)(2.868,.94)(2.872,1.07)(2.876,.89)(2.88,.98)(2.884,1.01)(2.888,.93)(2.892,1.05)(2.896,.87)(2.9,.97)(2.906,1.02)(2.912,.94)(2.918,.89)(2.924,1.07)(2.93,.98)(2.936,.92)(2.942,1.02)(2.948,.96)(2.954,.87)(2.96,1.05)(2.966,.93)(2.972,1.00)(2.978,.90)(2.984,1.04)(2.99,.97)(2.996,.86)(3.004,.98)(3.012,.90)(3.02,1.04)(3.028,.94)(3.036,1.00)(3.044,.88)(3.052,.97)(3.06,1.06)(3.068,.92)(3.076,.99)(3.084,.89)(3.092,1.03)(3.1,.94)(3.108,.99)(3.116,.86)(3.124,.96)(3.132,1.02)(3.14,.91)(3.148,.97)(3.156,.88)(3.164,1.01)(3.172,.93)(3.18,.98)(3.188,.90)
(2.13,.79)(2.136,.98)(2.143,.88)(2.15,1.02)(2.156,.77)(2.162,.93)(2.168,.83)(2.175,1.07)(2.181,.97)(2.187,.78)(2.194,1.01)(2.2,.87)(2.207,.76)(2.214,.98)(2.22,1.06)(2.227,.82)(2.234,.93)(2.24,.76)(2.247,1.02)(2.253,.86)(2.26,.98)(2.267,.73)(2.273,.94)(2.28,.84)(2.287,1.00)(2.293,.76)(2.3,.89)(2.307,.97)(2.313,.78)(2.32,1.03)(2.327,.86)
};
\addplot[edge,line width=0.72pt] coordinates {(0.921,1)(3.453,1)};
\addplot[black!80,line width=0.75pt] coordinates {(0.921,.938)(3.453,1.004)};
\end{axis}
\node[font=\calib\fontsize{18.5}{20}\selectfont,text=black] at (28.1pt,258.9pt) {(a)};
\node[font=\calib\fontsize{18.5}{20}\selectfont,text=black] at (397.1pt,258.9pt) {(b)};
\node[font=\calib\fontsize{18.5}{20}\selectfont,text=black] at (205.6pt,18.7pt) {(c)};
\end{tikzpicture}
\end{document}
